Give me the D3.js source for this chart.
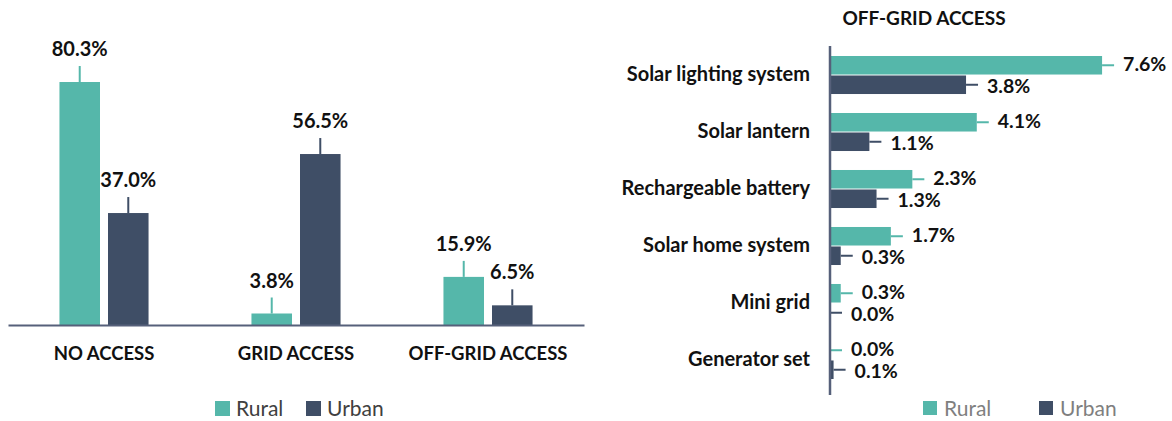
<!DOCTYPE html>
<html>
<head>
<meta charset="utf-8">
<script src="https://cdn.jsdelivr.net/npm/d3@7"></script>
<style>
  html, body { margin: 0; padding: 0; background: #fff; }
  svg { display: block; font-family: Lato, "Open Sans", sans-serif; }
</style>
</head>
<body>
<svg id="chart" width="1172" height="421"></svg>
<script>
// ---- Left chart data ----
const accessCategories = ["NO ACCESS", "GRID ACCESS", "OFF-GRID ACCESS"];
const accessRural = [80.3, 3.8, 15.9];
const accessUrban = [37.0, 56.5, 6.5];

// ---- Right chart data ----
const offGridCategories = ["Solar lighting system", "Solar lantern", "Rechargeable battery", "Solar home system", "Mini grid", "Generator set"];
const offGridRural = [7.6, 4.1, 2.3, 1.7, 0.3, 0.0];
const offGridUrban = [3.8, 1.1, 1.3, 0.3, 0.0, 0.1];

const seriesNames = ["Rural", "Urban"];
const rightTitle = "OFF-GRID ACCESS";

const colors = { Rural: "#55B7AA", Urban: "#3F4E66" };
const axisColor = "#56607A";
const fmt = v => v.toFixed(1) + "%";

const svg = d3.select("#chart");

// ================= LEFT: grouped column chart =================
{
  const baseY = 325;
  const x0 = d3.scaleBand().domain(accessCategories).range([8, 584])
    .paddingInner(0.536).paddingOuter(0.268);
  const x1 = d3.scaleBand().domain(seriesNames).range([0, x0.bandwidth()])
    .paddingInner(0.165).paddingOuter(0);
  const y = d3.scaleLinear().domain([0, 100]).range([baseY, baseY - 302.6]);

  const data = accessCategories.map((c, i) => ({
    cat: c,
    vals: [{ s: "Rural", v: accessRural[i] }, { s: "Urban", v: accessUrban[i] }]
  }));

  const g = svg.append("g");
  const grp = g.selectAll("g.grp").data(data).join("g")
    .attr("transform", d => `translate(${x0(d.cat)},0)`);

  const items = grp.selectAll("g.item").data(d => d.vals).join("g");
  items.append("rect")
    .attr("x", d => x1(d.s))
    .attr("width", x1.bandwidth())
    .attr("y", d => y(d.v))
    .attr("height", d => baseY - y(d.v))
    .attr("fill", d => colors[d.s]);
  items.append("line")
    .attr("x1", d => x1(d.s) + x1.bandwidth() / 2)
    .attr("x2", d => x1(d.s) + x1.bandwidth() / 2)
    .attr("y1", d => y(d.v))
    .attr("y2", d => y(d.v) - 16)
    .attr("stroke", d => colors[d.s])
    .attr("stroke-width", 2);
  items.append("text")
    .attr("x", d => x1(d.s) + x1.bandwidth() / 2)
    .attr("y", d => y(d.v) - 26)
    .attr("text-anchor", "middle")
    .attr("font-weight", "bold")
    .attr("font-size", 20)
    .attr("fill", "#111")
    .text(d => fmt(d.v));

  const xAxis = g.append("g").attr("transform", `translate(0,${baseY})`)
    .call(d3.axisBottom(x0).tickSize(0).tickPadding(22));
  xAxis.select(".domain").attr("stroke", axisColor).attr("stroke-width", 2);
  xAxis.selectAll("text")
    .attr("font-family", "Lato, sans-serif")
    .attr("font-weight", "bold")
    .attr("font-size", 18.5)
    .attr("fill", "#111");

  // legend
  const leg = g.append("g");
  const legX = [215, 306];
  seriesNames.forEach((s, i) => {
    leg.append("rect").attr("x", legX[i]).attr("y", 401).attr("width", 15).attr("height", 15).attr("fill", colors[s]);
    leg.append("text").attr("x", legX[i] + 21).attr("y", 416)
      .attr("font-size", 21).attr("fill", "#404040").text(s);
  });
}

// ================= RIGHT: grouped horizontal bar chart =================
{
  const baseX = 830;
  const y0 = d3.scaleBand().domain(offGridCategories).range([46.5, 388.5])
    .paddingInner(0.333).paddingOuter(0.1667);
  const y1 = d3.scaleBand().domain(seriesNames).range([0, y0.bandwidth()])
    .paddingInner(0.05).paddingOuter(0);
  const x = d3.scaleLinear().domain([0, 8]).range([baseX, baseX + 8 * 35.8]);
  const labelNudge = { Rural: -1.5, Urban: 1.5 };

  const g = svg.append("g");
  g.append("text").attr("x", 924).attr("y", 25).attr("text-anchor", "middle")
    .attr("font-weight", "bold").attr("font-size", 19).attr("fill", "#111")
    .text(rightTitle);

  const data = offGridCategories.map((c, i) => ({
    cat: c,
    vals: [{ s: "Rural", v: offGridRural[i] }, { s: "Urban", v: offGridUrban[i] }]
  }));

  const grp = g.selectAll("g.grp").data(data).join("g")
    .attr("transform", d => `translate(0,${y0(d.cat)})`);
  const items = grp.selectAll("g.item").data(d => d.vals).join("g");
  items.append("rect")
    .attr("x", baseX)
    .attr("y", d => y1(d.s))
    .attr("height", y1.bandwidth())
    .attr("width", d => x(d.v) - baseX)
    .attr("fill", d => colors[d.s]);
  items.append("line")
    .attr("x1", d => x(d.v))
    .attr("x2", d => x(d.v) + 12)
    .attr("y1", d => y1(d.s) + y1.bandwidth() / 2)
    .attr("y2", d => y1(d.s) + y1.bandwidth() / 2)
    .attr("stroke", d => colors[d.s])
    .attr("stroke-width", 2);
  items.append("text")
    .attr("x", d => x(d.v) + 21)
    .attr("y", d => y1(d.s) + y1.bandwidth() / 2 + labelNudge[d.s])
    .attr("dy", "0.36em")
    .attr("font-weight", "bold")
    .attr("font-size", 19.5)
    .attr("fill", "#111")
    .text(d => fmt(d.v));

  const yAxis = g.append("g").attr("transform", `translate(${baseX},0)`)
    .call(d3.axisLeft(y0).tickSize(0).tickPadding(20));
  yAxis.select(".domain").attr("d", "M0,46V395").attr("stroke", axisColor).attr("stroke-width", 2.5);
  yAxis.selectAll("text")
    .attr("font-family", "Lato, sans-serif")
    .attr("font-weight", "bold")
    .attr("font-size", 20)
    .attr("fill", "#111");

  const leg = g.append("g");
  const legX = [923, 1039];
  seriesNames.forEach((s, i) => {
    leg.append("rect").attr("x", legX[i]).attr("y", 401).attr("width", 14).attr("height", 14).attr("fill", colors[s]);
    leg.append("text").attr("x", legX[i] + 21).attr("y", 416)
      .attr("font-size", 21).attr("fill", "#7F7F7F").text(s);
  });
}
</script>
</body>
</html>
